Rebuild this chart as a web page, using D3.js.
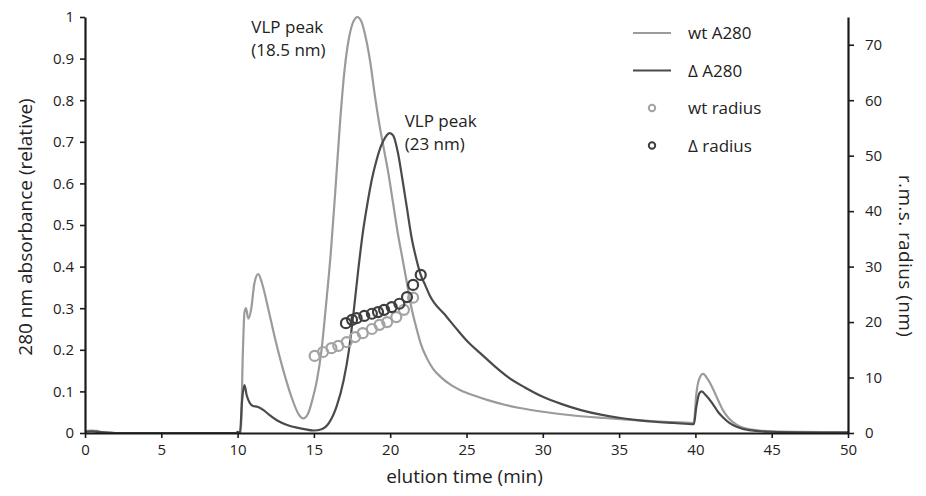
<!DOCTYPE html>
<html>
<head>
<meta charset="utf-8">
<script src="https://cdn.jsdelivr.net/npm/d3@7"></script>
<style>
  body { margin: 0; background: #fff; }
  svg text { font-family: "Open Sans", "Noto Sans", sans-serif; fill: #222; }
</style>
</head>
<body>
<div id="chart"></div>
<script>
// --- DATA ---
// [elution time (min), relative A280]
const wtA280 = [
  [0, 0.004], [0.3, 0.006], [0.8, 0.005], [1.2, 0.001], [2, 0], [10.2, 0],
  [10.35, 0.2], [10.45, 0.29], [10.55, 0.3], [10.7, 0.275], [10.9, 0.3], [11.1, 0.36],
  [11.35, 0.382], [11.6, 0.36], [12, 0.3], [12.5, 0.22], [13, 0.15], [13.5, 0.09],
  [14, 0.045], [14.3, 0.035], [14.6, 0.045], [14.9, 0.08], [15.2, 0.127], [15.5, 0.2],
  [15.8, 0.31], [16.1, 0.43], [16.4, 0.58], [16.7, 0.74], [17.0, 0.87], [17.3, 0.95],
  [17.6, 0.99], [17.85, 1.0], [18.1, 0.99], [18.4, 0.95], [18.7, 0.89], [19.0, 0.81],
  [19.3, 0.74], [19.6, 0.68], [19.9, 0.62], [20.2, 0.55], [20.5, 0.48], [20.8, 0.42],
  [21.1, 0.36], [21.4, 0.3], [21.7, 0.255], [22.0, 0.215], [22.4, 0.18], [22.8, 0.155],
  [23.3, 0.135], [24, 0.115], [24.6, 0.103], [25.5, 0.09], [26.4, 0.079], [27.5, 0.068],
  [28.5, 0.06], [30, 0.051], [32, 0.042], [34, 0.036], [36, 0.031], [38, 0.027],
  [39.9, 0.024], [40.05, 0.09], [40.25, 0.13], [40.5, 0.142], [40.8, 0.13], [41.1, 0.11],
  [41.5, 0.078], [41.8, 0.055], [42.2, 0.035], [42.7, 0.02], [43.2, 0.012], [43.7, 0.008],
  [45, 0.004], [50, 0.002]
];

const deltaA280 = [
  [0, 0.003], [0.5, 0.004], [1, 0.002], [2, 0], [9.9, 0], [10.0, 0.003], [10.15, 0],
  [10.3, 0.08], [10.45, 0.115], [10.6, 0.09], [10.8, 0.072], [11.0, 0.065], [11.3, 0.063],
  [11.7, 0.055], [12.1, 0.043], [12.6, 0.03], [13.2, 0.02], [14.3, 0.01], [15, 0.006],
  [15.5, 0.009], [16, 0.025], [16.5, 0.065], [16.95, 0.127], [17.3, 0.2], [17.6, 0.29],
  [17.9, 0.39], [18.2, 0.48], [18.5, 0.55], [18.8, 0.61], [19.1, 0.655], [19.4, 0.69],
  [19.7, 0.712], [19.97, 0.721], [20.2, 0.715], [20.5, 0.675], [20.8, 0.61], [21.1, 0.54],
  [21.4, 0.47], [21.7, 0.42], [22.0, 0.38], [22.3, 0.355], [22.6, 0.33], [22.9, 0.312],
  [23.5, 0.288], [24.4, 0.248], [25.2, 0.215], [25.9, 0.192], [26.8, 0.162], [27.7, 0.135],
  [28.8, 0.11], [30, 0.087], [31.2, 0.07], [32.5, 0.055], [33.8, 0.044], [35.1, 0.036],
  [36.2, 0.031], [37.3, 0.027], [38.6, 0.024], [39.9, 0.021], [40.05, 0.06], [40.25, 0.095],
  [40.4, 0.1], [40.7, 0.09], [41.1, 0.072], [41.5, 0.05], [41.8, 0.038], [42.2, 0.025],
  [42.7, 0.015], [43.5, 0.007], [45, 0.003], [50, 0.001]
];

// [elution time (min), r.m.s. radius (nm)]
const wtRadius = [
  [15.05, 13.9], [15.6, 14.6], [16.15, 15.3], [16.6, 15.7], [17.15, 16.4], [17.7, 17.3],
  [18.2, 18.0], [18.8, 18.75], [19.3, 19.5], [19.8, 20.0], [20.4, 20.9], [20.9, 22.2],
  [21.5, 24.4]
];

const deltaRadius = [
  [17.1, 19.8], [17.5, 20.4], [17.8, 20.7], [18.3, 21.1], [18.8, 21.5], [19.2, 21.8],
  [19.6, 22.2], [20.1, 22.7], [20.6, 23.3], [21.1, 24.5], [21.5, 26.7], [22.0, 28.5]
];

const xTicks = [0, 5, 10, 15, 20, 25, 30, 35, 40, 45, 50];
const yTicks = [0, 0.1, 0.2, 0.3, 0.4, 0.5, 0.6, 0.7, 0.8, 0.9, 1];
const y2Ticks = [0, 10, 20, 30, 40, 50, 60, 70];

const annotations = [
  { t: 10.9, v: 0.962, lines: ["VLP peak", "(18.5 nm)"] },
  { t: 20.95, v: 0.735, lines: ["VLP peak", "(23 nm)"] }
];

const legendItems = [
  { label: "wt A280", kind: "line", color: "#9b9b9b" },
  { label: "\u0394 A280", kind: "line", color: "#4a4a4a" },
  { label: "wt radius", kind: "dot", color: "#a3a3a3" },
  { label: "\u0394 radius", kind: "dot", color: "#3e3e3e" }
];

// --- SETUP ---
const width = 926, height = 496;
const margin = { top: 17, right: 78, bottom: 63, left: 85 };

const svg = d3.select("#chart").append("svg")
    .attr("width", width)
    .attr("height", height);

const x = d3.scaleLinear().domain([0, 50]).range([margin.left, width - margin.right]);
const y = d3.scaleLinear().domain([0, 1]).range([height - margin.bottom, margin.top]);
const y2 = d3.scaleLinear().domain([0, 75]).range([height - margin.bottom, margin.top]);

// --- LINES ---
const line = d3.line()
    .x(d => x(d[0]))
    .y(d => y(d[1]))
    .curve(d3.curveMonotoneX);

svg.append("path")
    .datum(wtA280)
    .attr("d", line)
    .attr("fill", "none")
    .attr("stroke", legendItems[0].color)
    .attr("stroke-width", 2.2);

svg.append("path")
    .datum(deltaA280)
    .attr("d", line)
    .attr("fill", "none")
    .attr("stroke", legendItems[1].color)
    .attr("stroke-width", 2.2);

// --- RADIUS DOTS ---
svg.append("g").selectAll("circle")
    .data(wtRadius)
    .enter().append("circle")
    .attr("cx", d => x(d[0]))
    .attr("cy", d => y2(d[1]))
    .attr("r", 5)
    .attr("fill", "none")
    .attr("stroke", legendItems[2].color)
    .attr("stroke-width", 2.2);

svg.append("g").selectAll("circle")
    .data(deltaRadius)
    .enter().append("circle")
    .attr("cx", d => x(d[0]))
    .attr("cy", d => y2(d[1]))
    .attr("r", 5)
    .attr("fill", "none")
    .attr("stroke", legendItems[3].color)
    .attr("stroke-width", 2.2);

// --- AXES ---
const axisColor = "#1a1a1a";

const gx = svg.append("g")
    .attr("transform", `translate(0,${y(0)})`)
    .call(d3.axisBottom(x).tickValues(xTicks).tickSize(5).tickSizeOuter(0).tickPadding(6));

const gy = svg.append("g")
    .attr("transform", `translate(${x(0)},0)`)
    .call(d3.axisLeft(y).tickValues(yTicks).tickSize(5).tickSizeOuter(0).tickPadding(6)
        .tickFormat(d => d === 0 || d === 1 ? d3.format("d")(d) : d3.format(".1f")(d)));

const gy2 = svg.append("g")
    .attr("transform", `translate(${x(50)},0)`)
    .call(d3.axisRight(y2).tickValues(y2Ticks).tickSize(6).tickSizeOuter(0).tickPadding(11));

[gx, gy, gy2].forEach(g => {
    g.select(".domain").attr("stroke", axisColor).attr("stroke-width", 2.2);
    g.selectAll(".tick line").attr("stroke", axisColor).attr("stroke-width", 1.6);
    g.selectAll(".tick text")
        .attr("fill", "#222")
        .style("font-size", "15px")
        .style("font-family", "'Open Sans', sans-serif");
});

// axis titles
svg.append("text")
    .attr("x", (x(0) + x(50)) / 2 - 2)
    .attr("y", 483)
    .attr("text-anchor", "middle")
    .style("font-size", "19px")
    .text("elution time (min)");

svg.append("text")
    .attr("transform", `translate(32,${(y(0) + y(1)) / 2 + 2}) rotate(-90)`)
    .attr("text-anchor", "middle")
    .style("font-size", "19px")
    .text("280 nm absorbance (relative)");

svg.append("text")
    .attr("transform", `translate(899,256) rotate(90)`)
    .attr("text-anchor", "middle")
    .style("font-size", "19px")
    .style("letter-spacing", "0.4px")
    .text("r.m.s. radius (nm)");

// --- ANNOTATIONS ---
annotations.forEach(a => {
    const t = svg.append("text")
        .attr("x", x(a.t))
        .attr("y", y(a.v))
        .style("font-size", "17px");
    a.lines.forEach((l, i) => {
        t.append("tspan")
            .attr("x", x(a.t))
            .attr("dy", i === 0 ? 0 : 23)
            .text(l);
    });
});

// --- LEGEND ---
const legend = svg.append("g").attr("transform", "translate(633,33)");
const legendRow = 37.5;

legendItems.forEach((d, i) => {
    const g = legend.append("g").attr("transform", `translate(0,${i * legendRow})`);
    if (d.kind === "line") {
        g.append("line")
            .attr("x1", 0).attr("x2", 38)
            .attr("y1", 0).attr("y2", 0)
            .attr("stroke", d.color)
            .attr("stroke-width", 2.2);
    } else {
        g.append("circle")
            .attr("cx", 19).attr("cy", 0)
            .attr("r", 3.2)
            .attr("fill", "none")
            .attr("stroke", d.color)
            .attr("stroke-width", 2);
    }
    g.append("text")
        .attr("x", 55)
        .attr("y", 6)
        .style("font-size", "17px")
        .text(d.label);
});
</script>
</body>
</html>
